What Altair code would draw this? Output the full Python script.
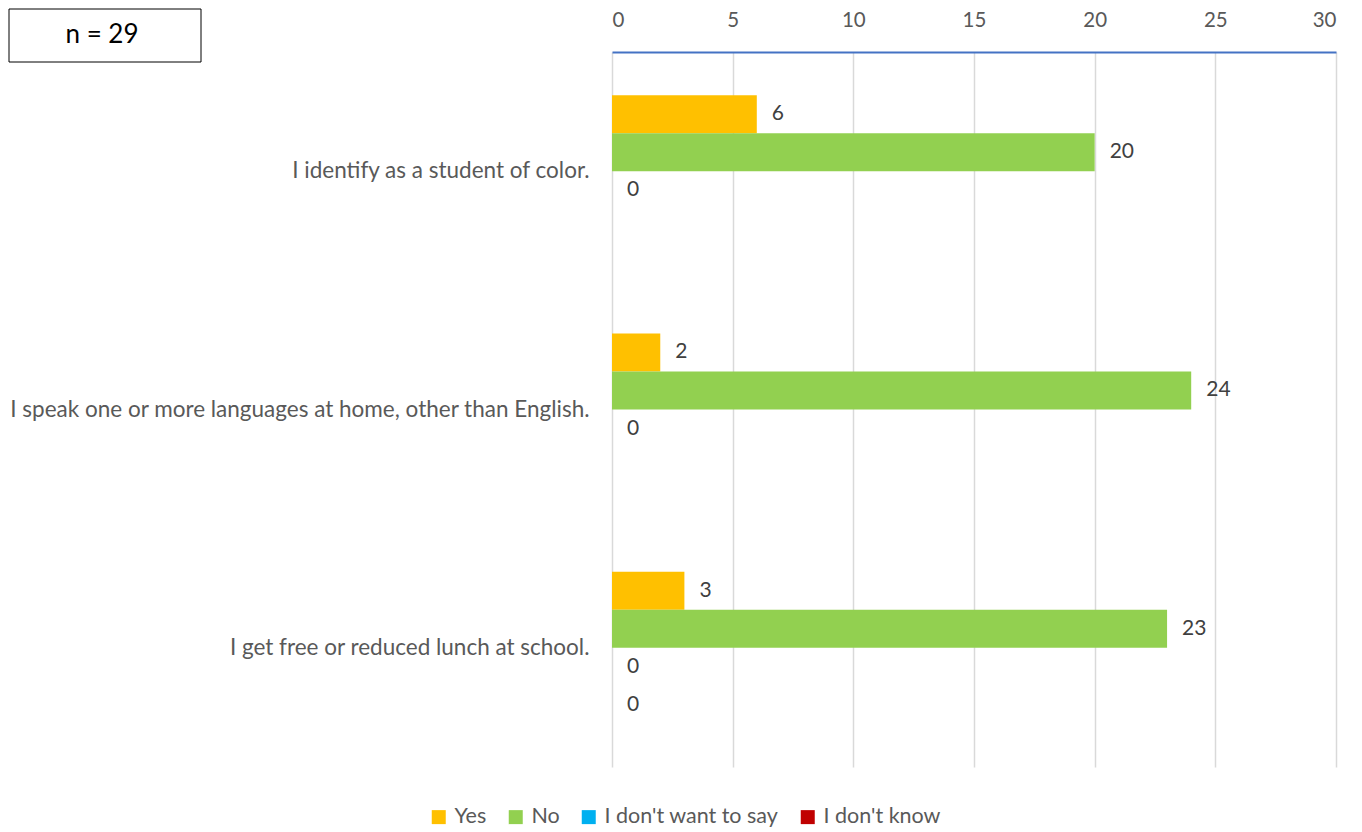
import altair as alt
import pandas as pd

categories = [
    "I identify as a student of color.",
    "I speak one or more languages at home, other than English.",
    "I get free or reduced lunch at school.",
]
series = ["Yes", "No", "I don't want to say", "I don't know"]
colors = ["#FFC000", "#92D050", "#00B0F0", "#C00000"]
yes_vals = [6, 2, 3]
no_vals = [20, 24, 23]
dontsay_vals = [0, 0, 0]
dontknow_vals = [None, None, 0]
x_ticks = [0, 5, 10, 15, 20, 25, 30]
n_text = "n = 29"

rows = []
for i, c in enumerate(categories):
    for s, vals in zip(series, [yes_vals, no_vals, dontsay_vals, dontknow_vals]):
        v = vals[i]
        if v is not None:
            rows.append({"category": c, "series": s, "value": v})
df = pd.DataFrame(rows)

FONT = "Lato"

base = alt.Chart(df).encode(
    y=alt.Y(
        "category:N",
        sort=categories,
        scale=alt.Scale(paddingInner=0.362, paddingOuter=0.181),
        axis=alt.Axis(
            title=None, orient="left", labelFontSize=22.5, labelColor="#595959",
            labelPadding=23, labelLimit=800, domain=False, ticks=False, grid=False,
            labelFont=FONT,
        ),
    ),
    yOffset=alt.YOffset(
        "series:N", sort=series,
        scale=alt.Scale(domain=series, paddingInner=0, paddingOuter=0),
    ),
    x=alt.X(
        "value:Q",
        scale=alt.Scale(domain=[0, 30], nice=False),
        axis=alt.Axis(
            orient="top", values=x_ticks, title=None, grid=True, gridColor="#D9D9D9",
            gridWidth=1.5, domainColor="#4472C4", domainWidth=2, ticks=False,
            labelFontSize=20.5, labelColor="#595959", labelPadding=22, labelFont=FONT,
        ),
    ),
)

bars = base.mark_bar().encode(
    color=alt.Color(
        "series:N",
        sort=series,
        scale=alt.Scale(domain=series, range=colors),
        legend=alt.Legend(
            title=None, orient="none", legendX=-184, legendY=754, direction="horizontal",
            symbolType="square", symbolSize=196, symbolStrokeWidth=0,
            labelFontSize=21.5, labelColor="#595959", labelFont=FONT, labelLimit=400,
            columnPadding=18, padding=0, labelOffset=5,
        ),
    )
)

labels = base.mark_text(align="left", dx=15, fontSize=21, color="#404040", font=FONT).encode(
    text="value:Q"
)

box = alt.Chart(alt.Data(values=[{}])).mark_rect(
    fill="white", stroke="black", strokeWidth=1
).encode(
    x=alt.value(-603), x2=alt.value(-411), y=alt.value(-43), y2=alt.value(10)
)

box_text = alt.Chart(alt.Data(values=[{}])).mark_text(
    fontSize=26, color="black", font=FONT
).encode(x=alt.value(-510), y=alt.value(-17), text=alt.value(n_text))

chart = alt.layer(bars, labels, box, box_text).properties(
    width=724, height=715, padding={"left": 0, "top": 0, "right": 5, "bottom": 5}
).configure_view(stroke=None)

chart.save("out.html", embed_options={"renderer": "svg", "actions": False})
